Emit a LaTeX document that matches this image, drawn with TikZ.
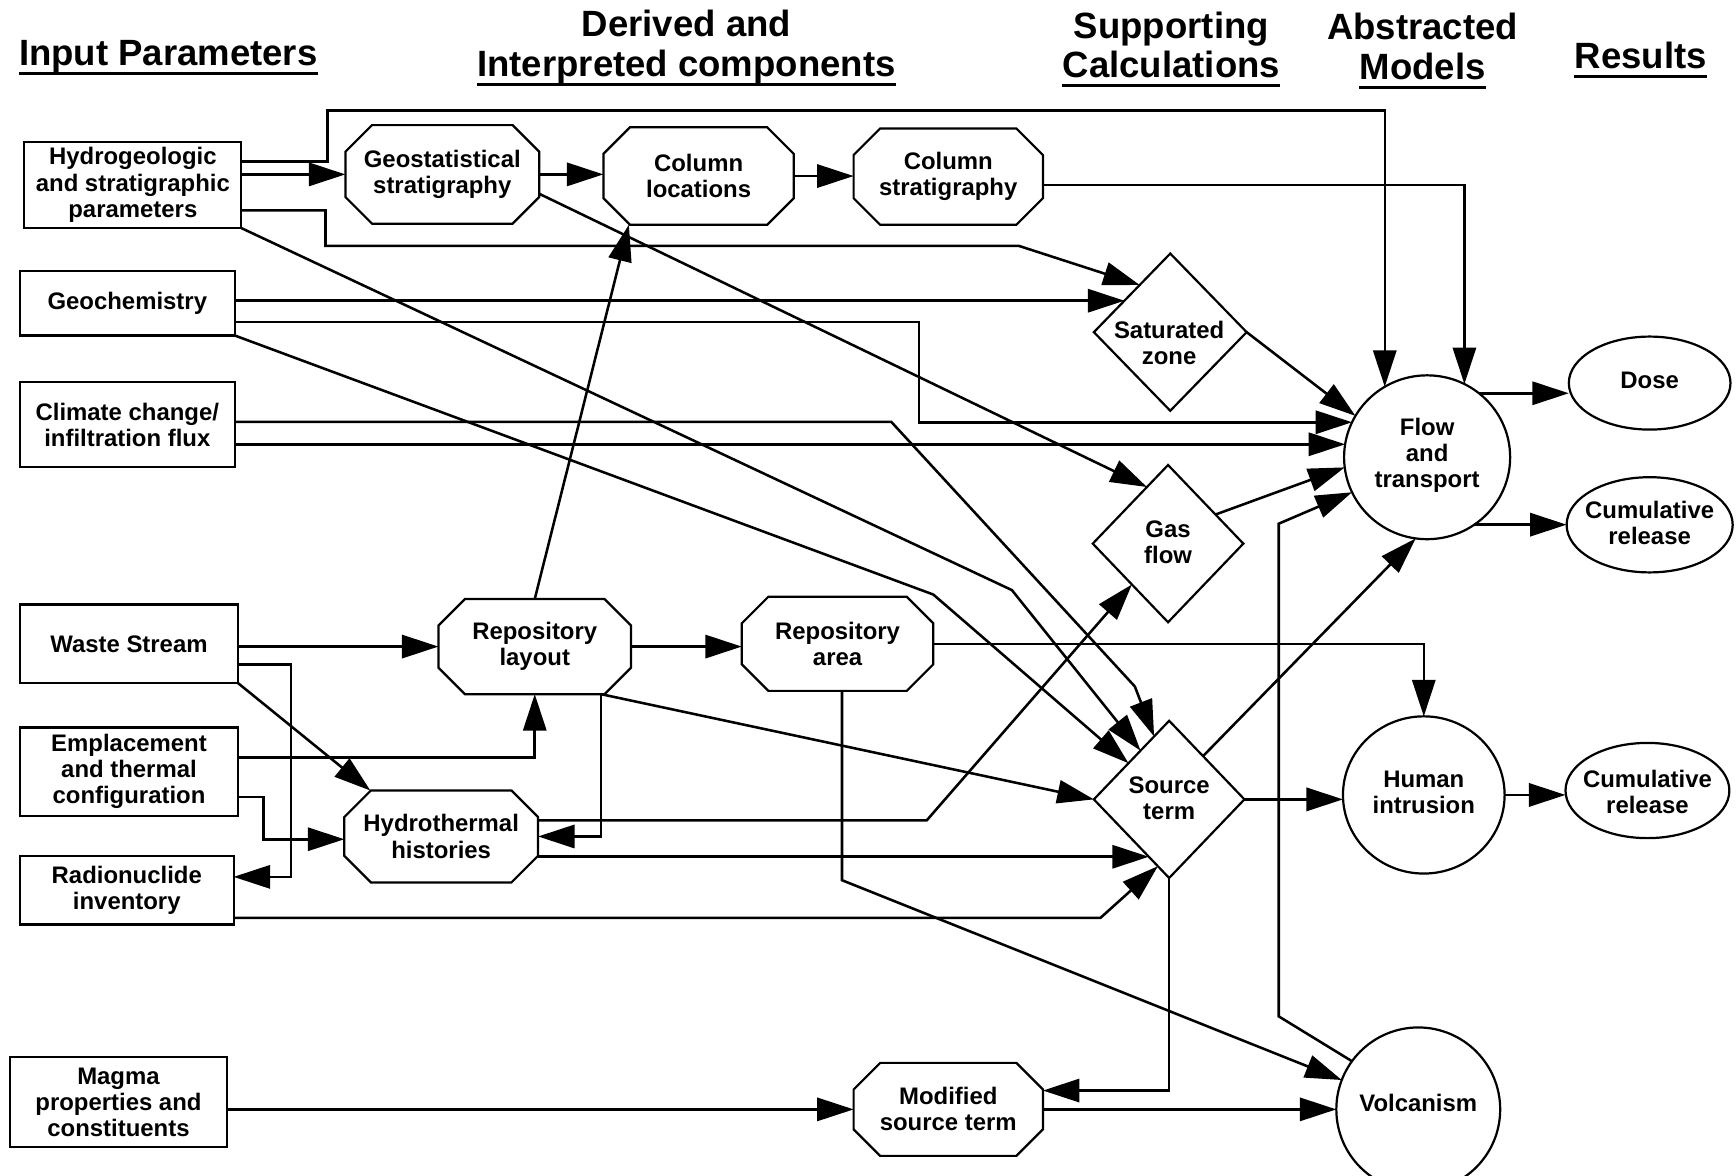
\documentclass[tikz,border=0pt]{standalone}
\usepackage{fontspec}
\setmainfont{Liberation Sans}
\usetikzlibrary{shapes.geometric,arrows.meta,calc}
\newcommand\drawocta[1]{\draw[line width=1pt] ([xshift=12pt]#1.north west) -- ([xshift=-12pt]#1.north east) -- ([yshift=-12pt]#1.north east) -- ([yshift=12pt]#1.south east) -- ([xshift=-12pt]#1.south east) -- ([xshift=12pt]#1.south west) -- ([yshift=12pt]#1.south west) -- ([yshift=-12pt]#1.north west) -- cycle;}
\begin{document}
\begin{tikzpicture}[x=0.5pt,y=-0.5pt,
  every node/.style={font=\bfseries\fontsize{10.8}{11.8}\selectfont, align=center},
  inbox/.style={draw, line width=1pt, rectangle, inner sep=0pt, outer sep=0pt},
  octo/.style={rectangle, inner sep=0pt, outer sep=0pt},
  dia/.style={draw, line width=1pt, diamond, inner sep=0pt, outer sep=0pt},
  ell/.style={draw, line width=1pt, ellipse, inner sep=0pt, outer sep=0pt},
  txt/.style={inner sep=0pt},
  head/.style={font=\bfseries\fontsize{16.5}{18}\selectfont, inner sep=0pt, anchor=base},
  uline/.style={line width=1.3pt},
  arr/.style={line width=1.15pt, -{Triangle[length=16.5pt,width=10.5pt]}, line join=miter}
]
\useasboundingbox (0,0) rectangle (1568,1062);
\clip (0,0) rectangle (1568,1062);

% headings
\node[head] (h1) at (152,59) {Input Parameters};
\node[head] (h2a) at (620,33) {Derived and};
\node[head] (h2) at (620,69) {Interpreted components};
\node[head] (h3a) at (1058,35) {Supporting};
\node[head] (h3) at (1058,70) {Calculations};
\node[head] (h4a) at (1285,36) {Abstracted};
\node[head] (h4) at (1285,72) {Models};
\node[head] (h5) at (1482,62) {Results};
\foreach \h in {h1,h2,h3,h4,h5}{
  \draw[uline] ([yshift=-3.5pt]\h.base west) -- ([yshift=-3.5pt]\h.base east);
}

% input boxes
\node[inbox, minimum width=98pt, minimum height=39pt] (hyd) at (120,167) {Hydrogeologic\\and stratigraphic\\parameters};
\node[inbox, minimum width=97pt, minimum height=29pt] (geo) at (115,274) {Geochemistry};
\node[inbox, minimum width=97pt, minimum height=38.5pt] (cli) at (115,383.5) {Climate change/\\infiltration flux};
\node[inbox, minimum width=98.5pt, minimum height=35.5pt] (was) at (116.5,581.5) {Waste Stream};
\node[inbox, minimum width=98.5pt, minimum height=40pt] (emp) at (116.5,697) {Emplacement\\and thermal\\configuration};
\node[inbox, minimum width=96.5pt, minimum height=31pt] (rad) at (114.5,804) {Radionuclide\\inventory};
\node[inbox, minimum width=98pt, minimum height=40.5pt] (mag) at (107,995.5) {Magma\\properties and\\constituents};

% octagons
\node[octo, minimum width=87.5pt, minimum height=44.5pt] (gst) at (399.5,157.5) {Geostatistical\\stratigraphy};
\node[octo, minimum width=86pt, minimum height=44pt] (cloc) at (631,159) {Column\\locations};
\node[octo, minimum width=85.5pt, minimum height=43.5pt] (cstr) at (856.5,159.5) {Column\\stratigraphy};
\node[octo, minimum width=87pt, minimum height=43pt] (rlay) at (483,584) {Repository\\layout};
\node[octo, minimum width=86.5pt, minimum height=42.5pt] (rarea) at (756.5,581.5) {Repository\\area};
\node[octo, minimum width=87.5pt, minimum height=41.5pt] (hyth) at (398.5,755.5) {Hydrothermal\\histories};
\node[octo, minimum width=85.5pt, minimum height=42pt] (mst) at (856.5,1002) {Modified\\source term};
\foreach \o in {gst,cloc,cstr,rlay,rarea,hyth,mst}{\drawocta{\o}}

% diamonds
\node[dia, minimum width=69pt, minimum height=71pt] (sat) at (1057,300) {};
\node[txt] (satT) at (1056,310) {Saturated\\zone};
\node[dia, minimum width=68pt, minimum height=71pt] (gas) at (1055,491) {};
\node[txt] (gasT) at (1055,490) {Gas\\flow};
\node[dia, minimum width=68pt, minimum height=71pt] (src) at (1056,722) {};
\node[txt] (srcT) at (1056,721) {Source\\term};

% ellipses
\node[ell, minimum width=75pt, minimum height=74pt] (flow) at (1289,413) {};
\node[txt] (flowT) at (1289,411) {Flow\\and\\transport};
\node[ell, minimum width=73pt, minimum height=71pt] (hum) at (1286,718) {};
\node[txt] (humT) at (1286,716) {Human\\intrusion};
\node[ell, minimum width=74pt, minimum height=74pt] (vol) at (1281,1002) {};
\node[txt] (volT) at (1281,996) {Volcanism};
\node[ell, minimum width=73pt, minimum height=42pt] (dose) at (1490,346) {};
\node[txt] (doseT) at (1490,344) {Dose};
\node[ell, minimum width=75pt, minimum height=43pt] (cr1) at (1490,474) {};
\node[txt] (cr1T) at (1490,472) {Cumulative\\release};
\node[ell, minimum width=74pt, minimum height=43pt] (cr2) at (1488,714) {};
\node[txt] (cr2T) at (1488,715) {Cumulative\\release};

% helper coordinates on borders
\coordinate (satA) at ($(sat.west)!0.4!(sat.north)$);
\coordinate (satB) at ($(sat.west)!0.6!(sat.north)$);
\coordinate (gasA) at ($(gas.west)!0.72!(gas.north)$);
\coordinate (gasB) at ($(gas.west)!0.52!(gas.south)$);
\coordinate (gasC) at ($(gas.north)!0.63!(gas.east)$);
\coordinate (srcA) at ($(src.west)!0.62!(src.north)$);
\coordinate (srcB) at ($(src.west)!0.46!(src.north)$);
\coordinate (srcC) at ($(src.west)!0.8!(src.north)$);
\coordinate (srcD) at ($(src.west)!0.73!(src.south)$);
\coordinate (srcE) at ($(src.west)!0.85!(src.south)$);
\coordinate (srcF) at ($(src.north)!0.45!(src.east)$);
\coordinate (fGeo) at (flow.155);
\coordinate (fCli) at (flow.171);
\coordinate (rA) at ($(rlay.south)+(60,0)$);
\coordinate (rB) at ($(rarea.south)+(4,0)$);

% Hydrogeologic
\draw[arr] (hyd.east |- 0,146) -- (296,146) -- (296,100) -- (flow.121 |- 0,100) -- (flow.121);
\draw[arr] (hyd.east |- gst.west) -- (gst.west);
\draw[arr] (hyd.east |- 0,190) -- (294,190) -- (294,222) -- (920,222) -- (satB);
\draw[arr] (hyd.south east) -- (914,533) -- (srcA);

% Geochemistry
\draw[arr] (geo.east |- satA) -- (satA);
\draw[arr] (geo.east |- 0,291) -- (830,291) -- (fGeo -| 830,0) -- (fGeo);
\draw[arr] (geo.south east) -- (843,537) -- (srcB);

% Climate
\draw[arr] (cli.east |- 0,381) -- (805,381) -- (1025,620) -- (srcC);
\draw[arr] (cli.east |- fCli) -- (fCli);

% Waste stream
\draw[arr] (was.east |- rlay.west) -- (rlay.west);
\draw[arr] (was.east |- 0,600) -- (263,600) -- (263,792) -- (rad.east |- 0,792);
\draw[arr] (was.south east) -- ($(hyth.north)+(-64,0)$);

% Emplacement
\draw[arr] (emp.east |- 0,684) -- (rlay.south |- 0,684) -- (rlay.south);
\draw[arr] (emp.east |- 0,720) -- (238,720) -- (238,758) -- (hyth.west |- 0,758);

% Radionuclide
\draw[arr] (rad.east |- 0,829) -- (994,829) -- (srcE);

% Magma
\draw[arr] (mag.east |- mst.west) -- (mst.west);

% derived components
\draw[arr] (gst.east) -- (gst.east -| cloc.west);
\draw[arr] (gst.east |- 0,175) -- (gasA);
\draw[arr] (cloc.east) -- (cloc.east -| cstr.west);
\draw[arr] (cstr.east |- 0,167) -- (flow.63 |- 0,167) -- (flow.63);
\draw[arr] (rlay.north) -- ($(cloc.south)+(-63,0)$);
\draw[arr] (rlay.east) -- (rlay.east -| rarea.west);
\draw[arr] (rA) -- (rA |- hyth.east) -- (hyth.east);
\draw[arr] (rA) -- (src.west);
\draw[arr] (rarea.east) -- (hum.north |- rarea.east) -- (hum.north);
\draw[arr] (rB) -- (rB |- 0,795) -- (vol.159);
\draw[arr] (hyth.east |- 0,741) -- (837,741) -- (gasB);
\draw[arr] (hyth.east |- srcD) -- (srcD);
\draw[arr] (mst.east) -- (mst.east -| vol.west);

% supporting calculations
\draw[arr] (sat.east) -- (flow.150);
\draw[arr] (gasC) -- (flow.187);
\draw[arr] (srcF) -- (flow.262);
\draw[arr] (src.east) -- (src.east -| hum.west);
\draw[arr] (src.south) -- (src.south |- 0,985) -- (mst.east |- 0,985);

% abstracted models
\draw[arr] (vol.144) -- (1155,918) -- (1155,473) -- (flow.205);
\draw[arr] (flow.51) -- (flow.51 -| dose.west);
\draw[arr] (flow.305) -- (flow.305 -| cr1.west);
\draw[arr] (hum.east) -- (hum.east -| cr2.west);
\end{tikzpicture}
\end{document}
